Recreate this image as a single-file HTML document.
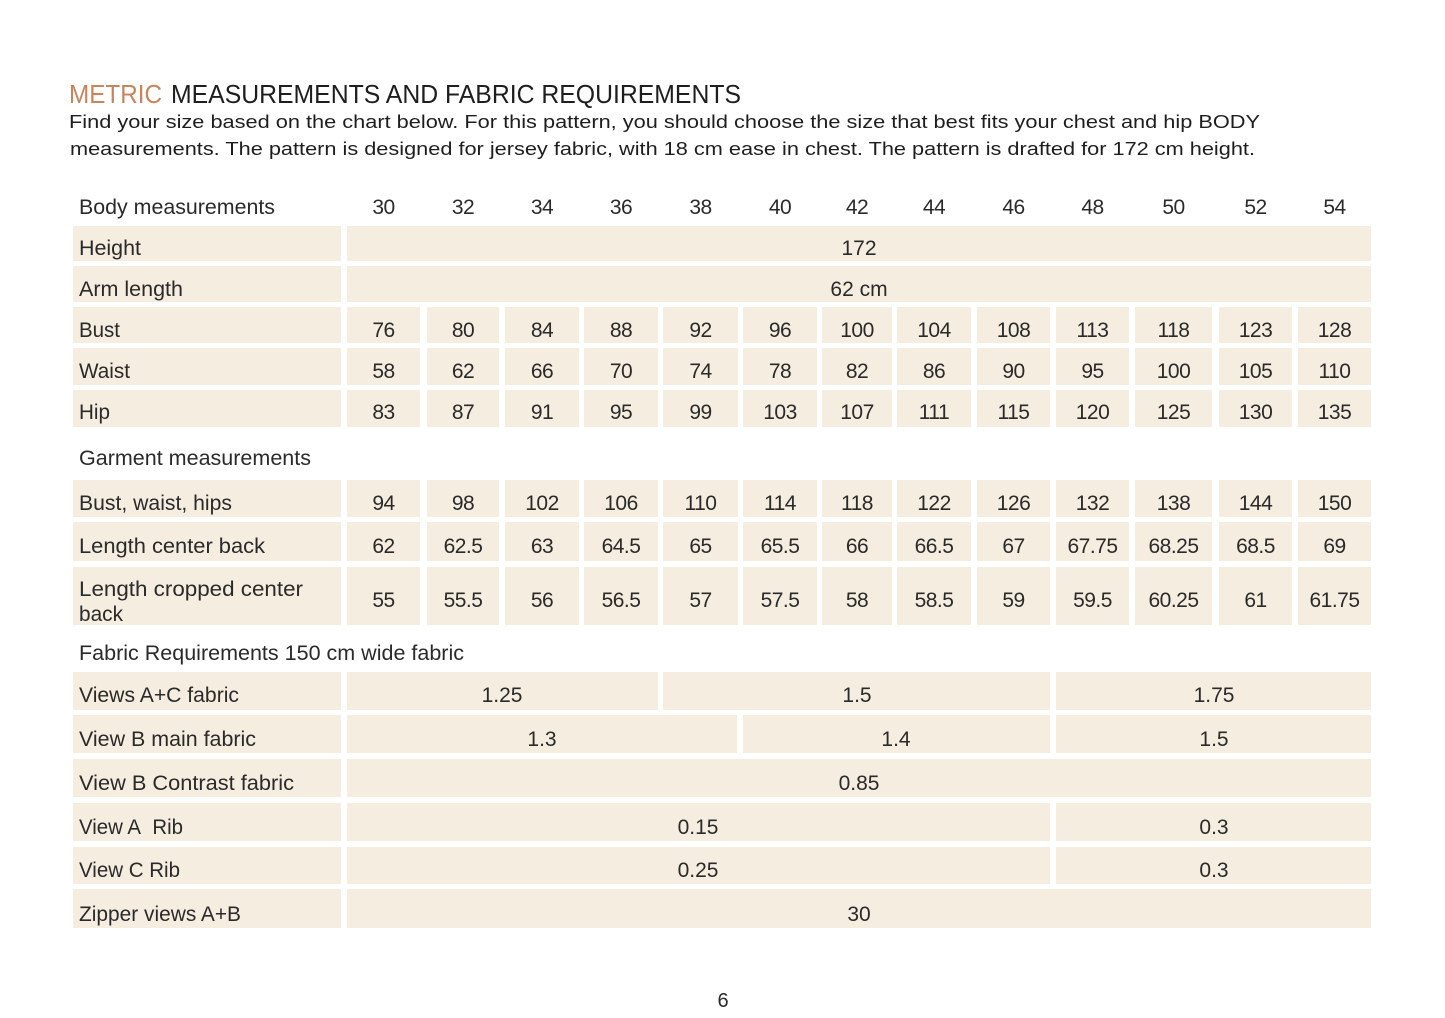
<!DOCTYPE html>
<html><head><meta charset="utf-8"><style>
html,body{margin:0;padding:0;background:#fff;}
svg{display:block;}
text{font-family:"Liberation Sans",sans-serif;}
</style></head><body>
<svg width="1445" height="1018" viewBox="0 0 1445 1018" xmlns="http://www.w3.org/2000/svg">
<rect width="1445" height="1018" fill="#fff"/>
<!-- Title -->
<text x="69" y="103" font-size="26" fill="#c8845c" textLength="93" lengthAdjust="spacingAndGlyphs">METRIC</text>
<text x="171" y="103" font-size="26" fill="#1e1e1e" textLength="570" lengthAdjust="spacingAndGlyphs">MEASUREMENTS AND FABRIC REQUIREMENTS</text>
<text x="69" y="128" font-size="18.5" fill="#1e1e1e" textLength="1191" lengthAdjust="spacingAndGlyphs">Find your size based on the chart below. For this pattern, you should choose the size that best fits your chest and hip BODY</text>
<text x="70" y="155" font-size="18.5" fill="#1e1e1e" textLength="1185" lengthAdjust="spacingAndGlyphs">measurements. The pattern is designed for jersey fabric, with 18 cm ease in chest. The pattern is drafted for 172 cm height.</text>

<g fill="#f5eddf">
<!-- label cells -->
<rect x="73" y="226" width="268" height="35"/>
<rect x="73" y="266" width="268" height="36"/>
<rect x="73" y="307" width="268" height="36"/>
<rect x="73" y="348" width="268" height="37"/>
<rect x="73" y="390" width="268" height="37"/>
<rect x="73" y="480" width="268" height="37"/>
<rect x="73" y="522" width="268" height="39"/>
<rect x="73" y="567" width="268" height="58"/>
<rect x="73" y="672" width="268" height="38"/>
<rect x="73" y="715" width="268" height="38"/>
<rect x="73" y="759" width="268" height="38"/>
<rect x="73" y="803" width="268" height="38"/>
<rect x="73" y="847" width="268" height="37"/>
<rect x="73" y="889" width="268" height="39"/>
<!-- full-span -->
<rect x="347" y="226" width="1024" height="35"/>
<rect x="347" y="266" width="1024" height="36"/>
<!-- fabric rows -->
<rect x="347" y="672" width="311" height="38"/>
<rect x="663" y="672" width="387" height="38"/>
<rect x="1056" y="672" width="315" height="38"/>
<rect x="347" y="715" width="390" height="38"/>
<rect x="743" y="715" width="307" height="38"/>
<rect x="1056" y="715" width="315" height="38"/>
<rect x="347" y="759" width="1024" height="38"/>
<rect x="347" y="803" width="703" height="38"/>
<rect x="1056" y="803" width="315" height="38"/>
<rect x="347" y="847" width="703" height="37"/>
<rect x="1056" y="847" width="315" height="37"/>
<rect x="347" y="889" width="1024" height="39"/>
</g>

<g font-size="21" fill="#2a2a2a">
<text x="79" y="214" textLength="196" lengthAdjust="spacingAndGlyphs">Body measurements</text>
<text x="79" y="255" textLength="62" lengthAdjust="spacingAndGlyphs">Height</text>
<text x="79" y="296" textLength="104" lengthAdjust="spacingAndGlyphs">Arm length</text>
<text x="79" y="337" textLength="41" lengthAdjust="spacingAndGlyphs">Bust</text>
<text x="79" y="378" textLength="51" lengthAdjust="spacingAndGlyphs">Waist</text>
<text x="79" y="419" textLength="31" lengthAdjust="spacingAndGlyphs">Hip</text>
<text x="79" y="465" textLength="232" lengthAdjust="spacingAndGlyphs">Garment measurements</text>
<text x="79" y="510" textLength="153" lengthAdjust="spacingAndGlyphs">Bust, waist, hips</text>
<text x="79" y="553" textLength="186" lengthAdjust="spacingAndGlyphs">Length center back</text>
<text x="79" y="596" textLength="224" lengthAdjust="spacingAndGlyphs">Length cropped center</text>
<text x="79" y="621" textLength="44" lengthAdjust="spacingAndGlyphs">back</text>
<text x="79" y="660" textLength="385" lengthAdjust="spacingAndGlyphs">Fabric Requirements 150 cm wide fabric</text>
<text x="79" y="702" textLength="160" lengthAdjust="spacingAndGlyphs">Views A+C fabric</text>
<text x="79" y="746" textLength="177" lengthAdjust="spacingAndGlyphs">View B main fabric</text>
<text x="79" y="790" textLength="215" lengthAdjust="spacingAndGlyphs">View B Contrast fabric</text>
<text x="79" y="834" textLength="104" lengthAdjust="spacingAndGlyphs">View A&#160; Rib</text>
<text x="79" y="877" textLength="101" lengthAdjust="spacingAndGlyphs">View C Rib</text>
<text x="79" y="921" textLength="162" lengthAdjust="spacingAndGlyphs">Zipper views A+B</text>
</g>

<g font-size="21" fill="#2a2a2a" text-anchor="middle">
<text x="859" y="255">172</text>
<text x="859" y="296">62 cm</text>
<text x="502" y="702">1.25</text>
<text x="857" y="702">1.5</text>
<text x="1214" y="702">1.75</text>
<text x="542" y="746">1.3</text>
<text x="896" y="746">1.4</text>
<text x="1214" y="746">1.5</text>
<text x="859" y="790">0.85</text>
<text x="698" y="834">0.15</text>
<text x="1214" y="834">0.3</text>
<text x="698" y="877">0.25</text>
<text x="1214" y="877">0.3</text>
<text x="859" y="921">30</text>
<text x="723" y="1007" font-size="20">6</text>
</g>

<!-- per-column cells & numbers -->
<g fill="#f5eddf">
<rect x="347" y="307" width="73" height="36"/><rect x="427" y="307" width="72" height="36"/><rect x="505" y="307" width="74" height="36"/><rect x="584" y="307" width="74" height="36"/><rect x="663" y="307" width="75" height="36"/><rect x="743" y="307" width="74" height="36"/><rect x="822" y="307" width="70" height="36"/><rect x="897" y="307" width="74" height="36"/><rect x="977" y="307" width="73" height="36"/><rect x="1056" y="307" width="73" height="36"/><rect x="1135" y="307" width="77" height="36"/><rect x="1219" y="307" width="73" height="36"/><rect x="1298" y="307" width="73" height="36"/>
<rect x="347" y="348" width="73" height="37"/><rect x="427" y="348" width="72" height="37"/><rect x="505" y="348" width="74" height="37"/><rect x="584" y="348" width="74" height="37"/><rect x="663" y="348" width="75" height="37"/><rect x="743" y="348" width="74" height="37"/><rect x="822" y="348" width="70" height="37"/><rect x="897" y="348" width="74" height="37"/><rect x="977" y="348" width="73" height="37"/><rect x="1056" y="348" width="73" height="37"/><rect x="1135" y="348" width="77" height="37"/><rect x="1219" y="348" width="73" height="37"/><rect x="1298" y="348" width="73" height="37"/>
<rect x="347" y="390" width="73" height="37"/><rect x="427" y="390" width="72" height="37"/><rect x="505" y="390" width="74" height="37"/><rect x="584" y="390" width="74" height="37"/><rect x="663" y="390" width="75" height="37"/><rect x="743" y="390" width="74" height="37"/><rect x="822" y="390" width="70" height="37"/><rect x="897" y="390" width="74" height="37"/><rect x="977" y="390" width="73" height="37"/><rect x="1056" y="390" width="73" height="37"/><rect x="1135" y="390" width="77" height="37"/><rect x="1219" y="390" width="73" height="37"/><rect x="1298" y="390" width="73" height="37"/>
<rect x="347" y="480" width="73" height="37"/><rect x="427" y="480" width="72" height="37"/><rect x="505" y="480" width="74" height="37"/><rect x="584" y="480" width="74" height="37"/><rect x="663" y="480" width="75" height="37"/><rect x="743" y="480" width="74" height="37"/><rect x="822" y="480" width="70" height="37"/><rect x="897" y="480" width="74" height="37"/><rect x="977" y="480" width="73" height="37"/><rect x="1056" y="480" width="73" height="37"/><rect x="1135" y="480" width="77" height="37"/><rect x="1219" y="480" width="73" height="37"/><rect x="1298" y="480" width="73" height="37"/>
<rect x="347" y="522" width="73" height="39"/><rect x="427" y="522" width="72" height="39"/><rect x="505" y="522" width="74" height="39"/><rect x="584" y="522" width="74" height="39"/><rect x="663" y="522" width="75" height="39"/><rect x="743" y="522" width="74" height="39"/><rect x="822" y="522" width="70" height="39"/><rect x="897" y="522" width="74" height="39"/><rect x="977" y="522" width="73" height="39"/><rect x="1056" y="522" width="73" height="39"/><rect x="1135" y="522" width="77" height="39"/><rect x="1219" y="522" width="73" height="39"/><rect x="1298" y="522" width="73" height="39"/>
<rect x="347" y="567" width="73" height="58"/><rect x="427" y="567" width="72" height="58"/><rect x="505" y="567" width="74" height="58"/><rect x="584" y="567" width="74" height="58"/><rect x="663" y="567" width="75" height="58"/><rect x="743" y="567" width="74" height="58"/><rect x="822" y="567" width="70" height="58"/><rect x="897" y="567" width="74" height="58"/><rect x="977" y="567" width="73" height="58"/><rect x="1056" y="567" width="73" height="58"/><rect x="1135" y="567" width="77" height="58"/><rect x="1219" y="567" width="73" height="58"/><rect x="1298" y="567" width="73" height="58"/>
</g>

<g font-size="21" fill="#2a2a2a" text-anchor="middle" letter-spacing="-0.5">
<text x="383.5" y="214">30</text><text x="463" y="214">32</text><text x="542" y="214">34</text><text x="621" y="214">36</text><text x="700.5" y="214">38</text><text x="780" y="214">40</text><text x="857" y="214">42</text><text x="934" y="214">44</text><text x="1013.5" y="214">46</text><text x="1092.5" y="214">48</text><text x="1173.5" y="214">50</text><text x="1255.5" y="214">52</text><text x="1334.5" y="214">54</text>
<text x="383.5" y="337">76</text><text x="463" y="337">80</text><text x="542" y="337">84</text><text x="621" y="337">88</text><text x="700.5" y="337">92</text><text x="780" y="337">96</text><text x="857" y="337">100</text><text x="934" y="337">104</text><text x="1013.5" y="337">108</text><text x="1092.5" y="337">113</text><text x="1173.5" y="337">118</text><text x="1255.5" y="337">123</text><text x="1334.5" y="337">128</text>
<text x="383.5" y="378">58</text><text x="463" y="378">62</text><text x="542" y="378">66</text><text x="621" y="378">70</text><text x="700.5" y="378">74</text><text x="780" y="378">78</text><text x="857" y="378">82</text><text x="934" y="378">86</text><text x="1013.5" y="378">90</text><text x="1092.5" y="378">95</text><text x="1173.5" y="378">100</text><text x="1255.5" y="378">105</text><text x="1334.5" y="378">110</text>
<text x="383.5" y="419">83</text><text x="463" y="419">87</text><text x="542" y="419">91</text><text x="621" y="419">95</text><text x="700.5" y="419">99</text><text x="780" y="419">103</text><text x="857" y="419">107</text><text x="934" y="419">111</text><text x="1013.5" y="419">115</text><text x="1092.5" y="419">120</text><text x="1173.5" y="419">125</text><text x="1255.5" y="419">130</text><text x="1334.5" y="419">135</text>
<text x="383.5" y="510">94</text><text x="463" y="510">98</text><text x="542" y="510">102</text><text x="621" y="510">106</text><text x="700.5" y="510">110</text><text x="780" y="510">114</text><text x="857" y="510">118</text><text x="934" y="510">122</text><text x="1013.5" y="510">126</text><text x="1092.5" y="510">132</text><text x="1173.5" y="510">138</text><text x="1255.5" y="510">144</text><text x="1334.5" y="510">150</text>
<text x="383.5" y="553">62</text><text x="463" y="553">62.5</text><text x="542" y="553">63</text><text x="621" y="553">64.5</text><text x="700.5" y="553">65</text><text x="780" y="553">65.5</text><text x="857" y="553">66</text><text x="934" y="553">66.5</text><text x="1013.5" y="553">67</text><text x="1092.5" y="553">67.75</text><text x="1173.5" y="553">68.25</text><text x="1255.5" y="553">68.5</text><text x="1334.5" y="553">69</text>
<text x="383.5" y="607">55</text><text x="463" y="607">55.5</text><text x="542" y="607">56</text><text x="621" y="607">56.5</text><text x="700.5" y="607">57</text><text x="780" y="607">57.5</text><text x="857" y="607">58</text><text x="934" y="607">58.5</text><text x="1013.5" y="607">59</text><text x="1092.5" y="607">59.5</text><text x="1173.5" y="607">60.25</text><text x="1255.5" y="607">61</text><text x="1334.5" y="607">61.75</text>
</g>
</svg>
</body></html>
